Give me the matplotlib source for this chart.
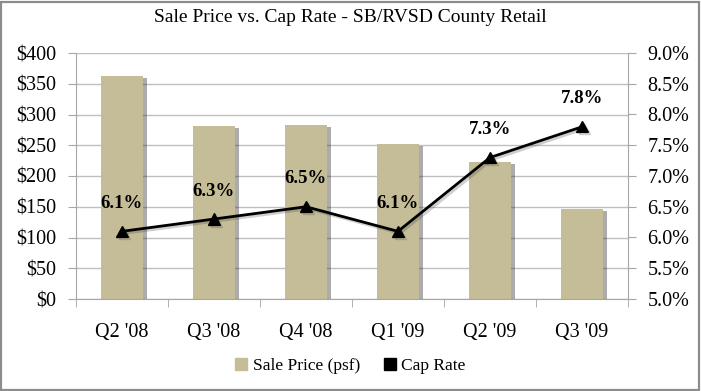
import matplotlib
matplotlib.use("Agg")
import matplotlib.pyplot as plt
import matplotlib.patheffects as pe
from matplotlib.patches import Rectangle
from matplotlib.ticker import FuncFormatter, MultipleLocator

categories = ["Q2 '08", "Q3 '08", "Q4 '08", "Q1 '09", "Q2 '09", "Q3 '09"]
sale_price = [362, 281, 283, 252, 223, 147]
cap_rate = [6.1, 6.3, 6.5, 6.1, 7.3, 7.8]
cap_labels = ["6.1%", "6.3%", "6.5%", "6.1%", "7.3%", "7.8%"]

plt.rcParams['font.family'] = ['Liberation Serif', 'DejaVu Serif']

bar_color = "#C4BD97"
grid_color = "#BFBFBF"
axis_color = "#A6A6A6"

fig = plt.figure(figsize=(7.01, 3.91), dpi=100)
fig.patches.append(Rectangle((0.002, 0.003), 0.995, 0.993, transform=fig.transFigure,
                             fill=False, edgecolor="#8C8C8C", linewidth=1.6))

ax = fig.add_axes([76/701, 1 - 299/391, (628-76)/701, (299-53)/391])
x = list(range(len(categories)))
bars = ax.bar(x, sale_price, width=0.45, color=bar_color, zorder=2,
              label="Sale Price (psf)")
for b in bars:
    b.set_path_effects([pe.SimplePatchShadow(offset=(3, -1.5), shadow_rgbFace="#303030", alpha=0.4),
                        pe.Normal()])
ax.set_ylim(0, 400)
ax.set_xlim(-0.5, len(categories) - 0.5)
ax.yaxis.set_major_locator(MultipleLocator(50))
ax.yaxis.set_major_formatter(FuncFormatter(lambda v, p: f"${v:.0f}"))
ax.grid(axis="y", color=grid_color, linewidth=1, zorder=0)
ax.set_axisbelow(True)
ax.set_xticks(x)
ax.set_xticklabels(categories, fontsize=14.5)
ax.set_xticks([i - 0.5 for i in range(len(categories) + 1)], minor=True)
ax.tick_params(axis="x", which="major", length=0, pad=17)
ax.tick_params(axis="x", which="minor", length=6, color=axis_color, direction="out")
ax.tick_params(axis="y", length=6, color=axis_color, labelsize=14.5, pad=8)
for s in ["left", "bottom"]:
    ax.spines[s].set_color(axis_color)
ax.spines["top"].set_visible(False)
ax.spines["right"].set_visible(False)

ax2 = ax.twinx()
ax2.set_ylim(5.0, 9.0)
ax2.yaxis.set_major_locator(MultipleLocator(0.5))
ax2.yaxis.set_major_formatter(FuncFormatter(lambda v, p: f"{v:.1f}%"))
ax2.tick_params(axis="y", length=6, color=axis_color, labelsize=14.5, pad=8)
ax2.spines["right"].set_color(axis_color)
for s in ["left", "top", "bottom"]:
    ax2.spines[s].set_visible(False)
line, = ax2.plot(x, cap_rate, color="black", linewidth=2, marker="^", markersize=8,
                 label="Cap Rate", zorder=3)
line.set_path_effects([pe.SimpleLineShadow(offset=(1.5, -1.5), shadow_color="#404040", alpha=0.25),
                       pe.Normal()])
for xi, yi, lab in zip(x, cap_rate, cap_labels):
    ax2.annotate(lab, (xi, yi), xytext=(0, 14), textcoords="offset points",
                 ha="center", va="bottom", fontsize=13.5, fontweight="bold")

fig.text(0.5, 1 - 18/391, "Sale Price vs. Cap Rate - SB/RVSD County Retail",
         ha="center", va="center", fontsize=14)

handles = [Rectangle((0, 0), 1, 1, color=bar_color), Rectangle((0, 0), 1, 1, color="black")]
fig.legend(handles, ["Sale Price (psf)", "Cap Rate"], loc="center",
           bbox_to_anchor=(0.5, 1 - 366/391), ncol=2, frameon=False, fontsize=12.5,
           handlelength=0.7, handleheight=0.7, handletextpad=0.3, columnspacing=1.4)

fig.savefig("out.png", dpi=100)
